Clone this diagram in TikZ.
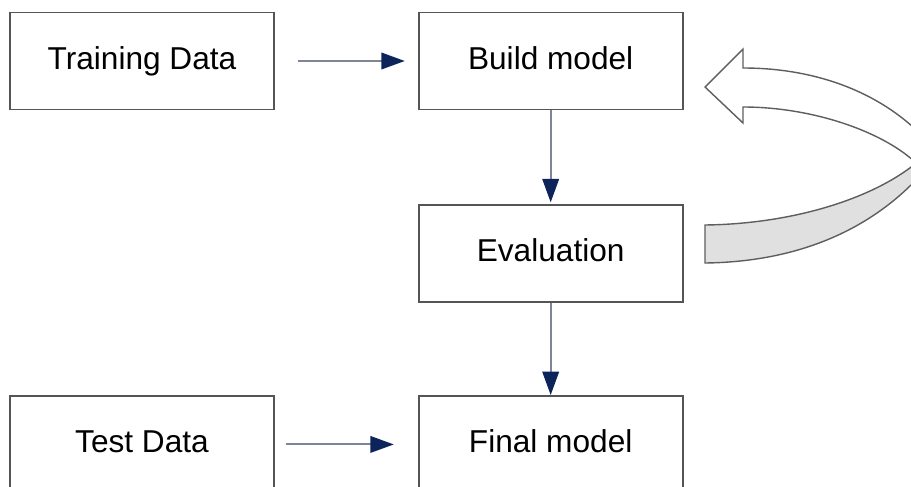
\documentclass[tikz,border=0pt]{standalone}
\usepackage{fontspec}
\setmainfont{Liberation Sans}
\usetikzlibrary{arrows.meta}
\usetikzlibrary{positioning}
\definecolor{boxline}{HTML}{555555}
\definecolor{flowline}{HTML}{7C8698}
\definecolor{flowhead}{HTML}{0C245A}
\definecolor{ribbonline}{HTML}{5E5E5E}
\definecolor{ribbonfill}{HTML}{E0E0E0}
\tikzset{
    box/.style = {draw=boxline,line width=1pt,minimum width=5.28cm,minimum height=1.94cm,inner sep=0,
        text height=13pt,text depth=3.6pt,font=\fontsize{18}{21}\selectfont},
    flow/.style = {draw=flowline,line width=1.2pt,-{Triangle[length=0.47cm,width=0.33cm,color=flowhead,fill=flowhead]}},
    ribbon/.style = {draw=ribbonline,line width=0.8pt,line join=miter},
}

\begin{document}
\begin{tikzpicture}[x=0.02cm,y=-0.02cm]
        \newcommand*\boxhsep{2.86cm}
        \useasboundingbox (0,0) rectangle (911,486);
        \clip (0,0) rectangle (911,486);
        % Boxes
        \node[box] (train) at (142,61) {Training Data};
        \node[box,right=\boxhsep of train] (build) {Build model};
        \node[box,below=1.88cm of build] (eval) {Evaluation};
        \node[box,below=1.84cm of eval] (final) {Final model};
        \node[box,left=\boxhsep of final] (test) {Test Data};
        % Flow
        \draw[flow,shorten <=0.46cm,shorten >=0.26cm] (train) -- (build);
        \draw[flow,shorten <=0.22cm,shorten >=0.48cm] (test) -- (final);
        \draw[flow,shorten >=0.04cm] (build) -- (eval);
        \draw[flow] (eval) -- (final);
        % Loop back (back side, then front with head)
        \path[ribbon,fill=ribbonfill] (705,225) -- (705,263)
            .. controls (790,262) and (860,235) .. (911,185)
            -- (940,175) -- (940,160) -- (915,164)
            .. controls (870,200) and (790,224) .. (705,225) -- cycle;
        \path[ribbon,fill=white] (705,87) -- (743,49) -- (743,68)
            .. controls (820,68) and (890,95) .. (935,150)
            -- (935,165) -- (915,162)
            .. controls (880,130) and (810,107) .. (743,107)
            -- (743,123) -- cycle;
    \end{tikzpicture}
\end{document}
